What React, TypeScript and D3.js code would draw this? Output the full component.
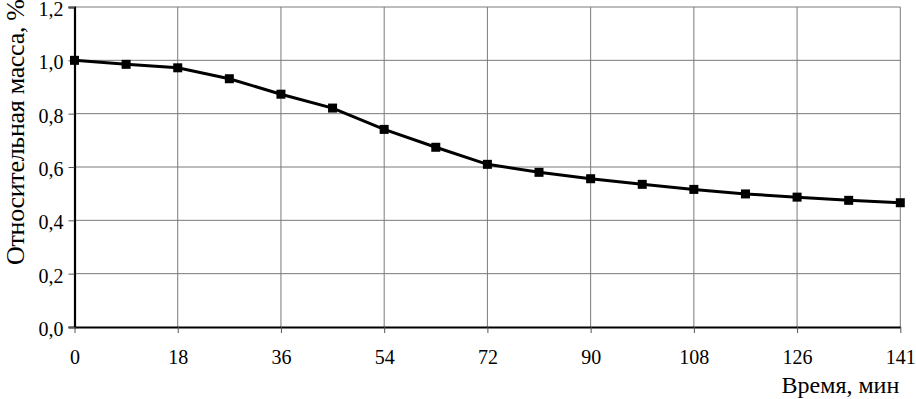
import React from 'react';
import * as d3 from 'd3';

// time points (min) — equally spaced categories, last one is 141
const times = [0, 9, 18, 27, 36, 45, 54, 63, 72, 81, 90, 99, 108, 117, 126, 135, 141];
// relative mass
const mass = [1.0, 0.985, 0.972, 0.931, 0.873, 0.821, 0.741, 0.674, 0.61, 0.58, 0.556,
  0.535, 0.516, 0.499, 0.487, 0.475, 0.466];
const yTicks = [0, 0.2, 0.4, 0.6, 0.8, 1.0, 1.2];
const xLabelTimes = [0, 18, 36, 54, 72, 90, 108, 126, 141];

const xTitle = 'Время, мин';
const yTitle = 'Относительная масса, %';

const fmt = (v: number) => v.toFixed(1).replace('.', ',');

/**
 * Relative mass vs time line chart
 */
class App extends React.Component {
  svgRef: any;

  constructor(props: any) {
    super(props);
    this.svgRef = React.createRef();
  }

  componentDidMount() {
    document.body.style.margin = '0';
    this.draw();
  }

  draw() {
    const width = 916;
    const height = 399;
    const margin = {top: 7, right: 15.7, bottom: 72, left: 74.5};
    const font = "'Liberation Serif', 'Times New Roman', serif";

    const svg = d3.select(this.svgRef.current);
    svg.selectAll('*').remove();

    const x = d3.scalePoint<number>()
      .domain(times)
      .range([margin.left, width - margin.right]);

    const y = d3.scaleLinear()
      .domain([0, 1.2])
      .range([height - margin.bottom, margin.top]);

    // horizontal grid
    svg.append('g')
      .selectAll('line')
      .data(yTicks.slice(1))
      .join('line')
      .attr('x1', margin.left)
      .attr('x2', width - margin.right)
      .attr('y1', d => y(d))
      .attr('y2', d => y(d))
      .attr('stroke', '#7a7a7a')
      .attr('stroke-width', 1);

    // vertical grid
    svg.append('g')
      .selectAll('line')
      .data(xLabelTimes.slice(1))
      .join('line')
      .attr('x1', d => x(d))
      .attr('x2', d => x(d))
      .attr('y1', y(1.2))
      .attr('y2', y(0))
      .attr('stroke', '#7a7a7a')
      .attr('stroke-width', 1);

    // y axis
    const yAxis = svg.append('g')
      .attr('transform', `translate(${margin.left}, 0)`)
      .call(d3.axisLeft(y).tickValues(yTicks).tickFormat(fmt as any).tickSize(6).tickPadding(5));
    yAxis.attr('font-family', null).attr('font-size', null);
    yAxis.select('.domain').attr('stroke', '#000').attr('stroke-width', 2.2);
    yAxis.selectAll('.tick line').attr('stroke', '#555');
    yAxis.selectAll('text')
      .attr('dy', '0.42em')
      .style('font-family', font)
      .style('font-size', '20px')
      .attr('fill', '#000');

    // x axis
    const xAxis = svg.append('g')
      .attr('transform', `translate(0, ${y(0)})`)
      .call(d3.axisBottom(x).tickValues(xLabelTimes).tickSize(6).tickPadding(17).tickSizeOuter(0));
    xAxis.attr('font-family', null).attr('font-size', null);
    xAxis.select('.domain').attr('stroke', '#000').attr('stroke-width', 2.2);
    xAxis.selectAll('.tick line').attr('stroke', '#555');
    xAxis.selectAll('text')
      .style('font-family', font)
      .style('font-size', '20px')
      .attr('fill', '#000');

    // line
    const points = times.map((t, i) => [x(t), y(mass[i])] as [number, number]);
    svg.append('path')
      .attr('d', d3.line()(points))
      .attr('fill', 'none')
      .attr('stroke', '#000')
      .attr('stroke-width', 3);

    // markers
    const size = 9;
    svg.append('g')
      .selectAll('rect')
      .data(points)
      .join('rect')
      .attr('x', d => d[0] - size / 2)
      .attr('y', d => d[1] - size / 2)
      .attr('width', size)
      .attr('height', size)
      .attr('fill', '#000');

    // axis titles
    svg.append('text')
      .attr('x', width - margin.right - 1)
      .attr('y', 393)
      .attr('text-anchor', 'end')
      .style('font-family', font)
      .style('font-size', '24px')
      .text(xTitle);

    svg.append('text')
      .attr('transform', 'translate(24, 265) rotate(-90)')
      .attr('text-anchor', 'start')
      .attr('textLength', 266)
      .attr('lengthAdjust', 'spacing')
      .style('font-family', font)
      .style('font-size', '26px')
      .text(yTitle);
  }

  render() {
    return (
      <svg ref={this.svgRef} width={916} height={399}
        style={{display: 'block', background: '#fff'}}></svg>
    );
  }
}

export default App;
